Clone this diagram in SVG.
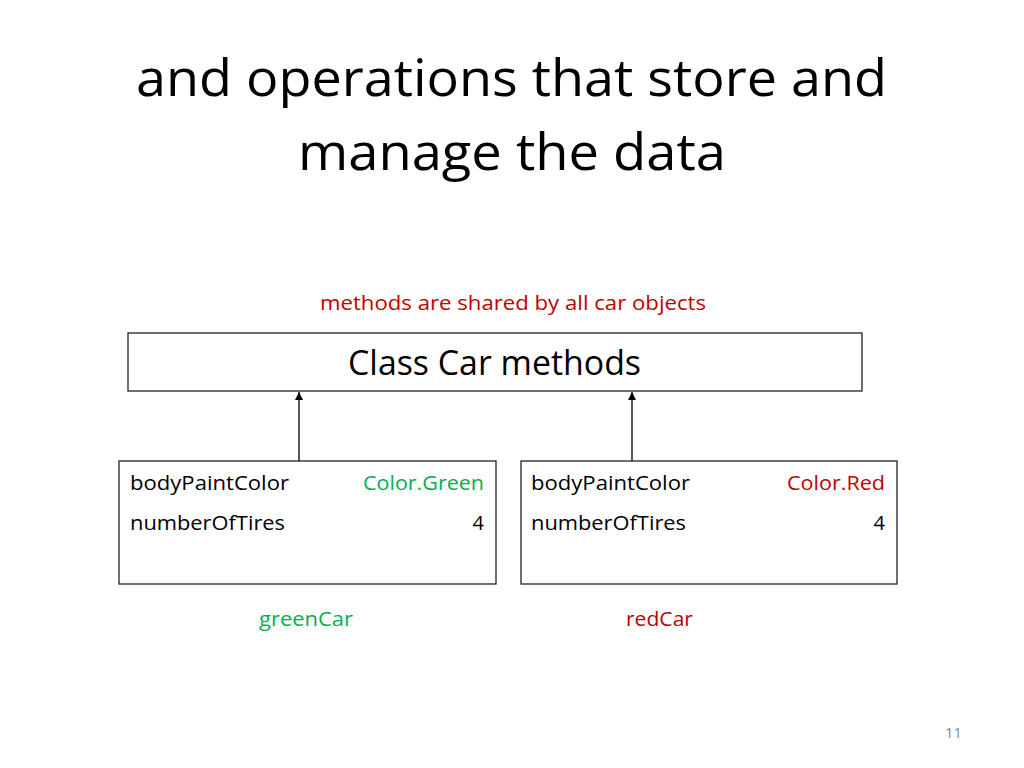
<svg xmlns="http://www.w3.org/2000/svg" width="1024" height="768" viewBox="0 0 1024 768">
<defs>
<style>
text{font-family:"Open Sans","Noto Sans","Liberation Sans",sans-serif}
.title{font-size:52px;fill:#000}
.sm{font-size:20px;fill:#000}
.red{fill:#C00000}
.green{fill:#00B050}
.box{fill:#fff;stroke:#222;stroke-width:1.3}
.conn{stroke:#000;stroke-width:1.3;fill:none}
</style>
<marker id="arr" viewBox="0 0 10 10" refX="10" refY="5" markerWidth="8" markerHeight="8" markerUnits="userSpaceOnUse" orient="auto">
<path d="M0,0 L10,5 L0,10 z" fill="#000"/>
</marker>
</defs>
<rect width="1024" height="768" fill="#fff"/>
<g id="title">
<text class="title" x="136" y="96" textLength="751" lengthAdjust="spacingAndGlyphs">and operations that store and</text>
<text class="title" x="298" y="170" textLength="428" lengthAdjust="spacingAndGlyphs">manage the data</text>
</g>
<text class="red" x="320" y="310" font-size="19.5" textLength="386" lengthAdjust="spacingAndGlyphs">methods are shared by all car objects</text>
<g id="classCar">
<rect class="box" x="128" y="333" width="734" height="58"/>
<text x="348" y="375" font-size="34" textLength="293" lengthAdjust="spacingAndGlyphs">Class Car methods</text>
</g>
<g id="greenCar">
<rect class="box" x="119" y="461" width="377" height="123"/>
<text class="sm" x="130" y="490" textLength="159" lengthAdjust="spacingAndGlyphs">bodyPaintColor</text>
<text class="sm green" x="363" y="490" textLength="121" lengthAdjust="spacingAndGlyphs">Color.Green</text>
<text class="sm" x="130" y="530" textLength="155" lengthAdjust="spacingAndGlyphs">numberOfTires</text>
<text class="sm" x="484" y="530" text-anchor="end">4</text>
<text class="green" x="259" y="626" font-size="20" textLength="94" lengthAdjust="spacingAndGlyphs">greenCar</text>
</g>
<g id="redCar">
<rect class="box" x="521" y="461" width="376" height="123"/>
<text class="sm" x="531" y="490" textLength="159" lengthAdjust="spacingAndGlyphs">bodyPaintColor</text>
<text class="sm red" x="787" y="490" textLength="98" lengthAdjust="spacingAndGlyphs">Color.Red</text>
<text class="sm" x="531" y="530" textLength="155" lengthAdjust="spacingAndGlyphs">numberOfTires</text>
<text class="sm" x="885" y="530" text-anchor="end">4</text>
<text class="red" x="626" y="626" font-size="20" textLength="67" lengthAdjust="spacingAndGlyphs">redCar</text>
</g>
<g id="connectors">
<line class="conn" x1="299" y1="461" x2="299" y2="392" marker-end="url(#arr)"/>
<line class="conn" x1="632" y1="461" x2="632" y2="392" marker-end="url(#arr)"/>
</g>
<text x="945" y="738" font-size="14" fill="#888" textLength="17" lengthAdjust="spacingAndGlyphs">11</text>
</svg>
